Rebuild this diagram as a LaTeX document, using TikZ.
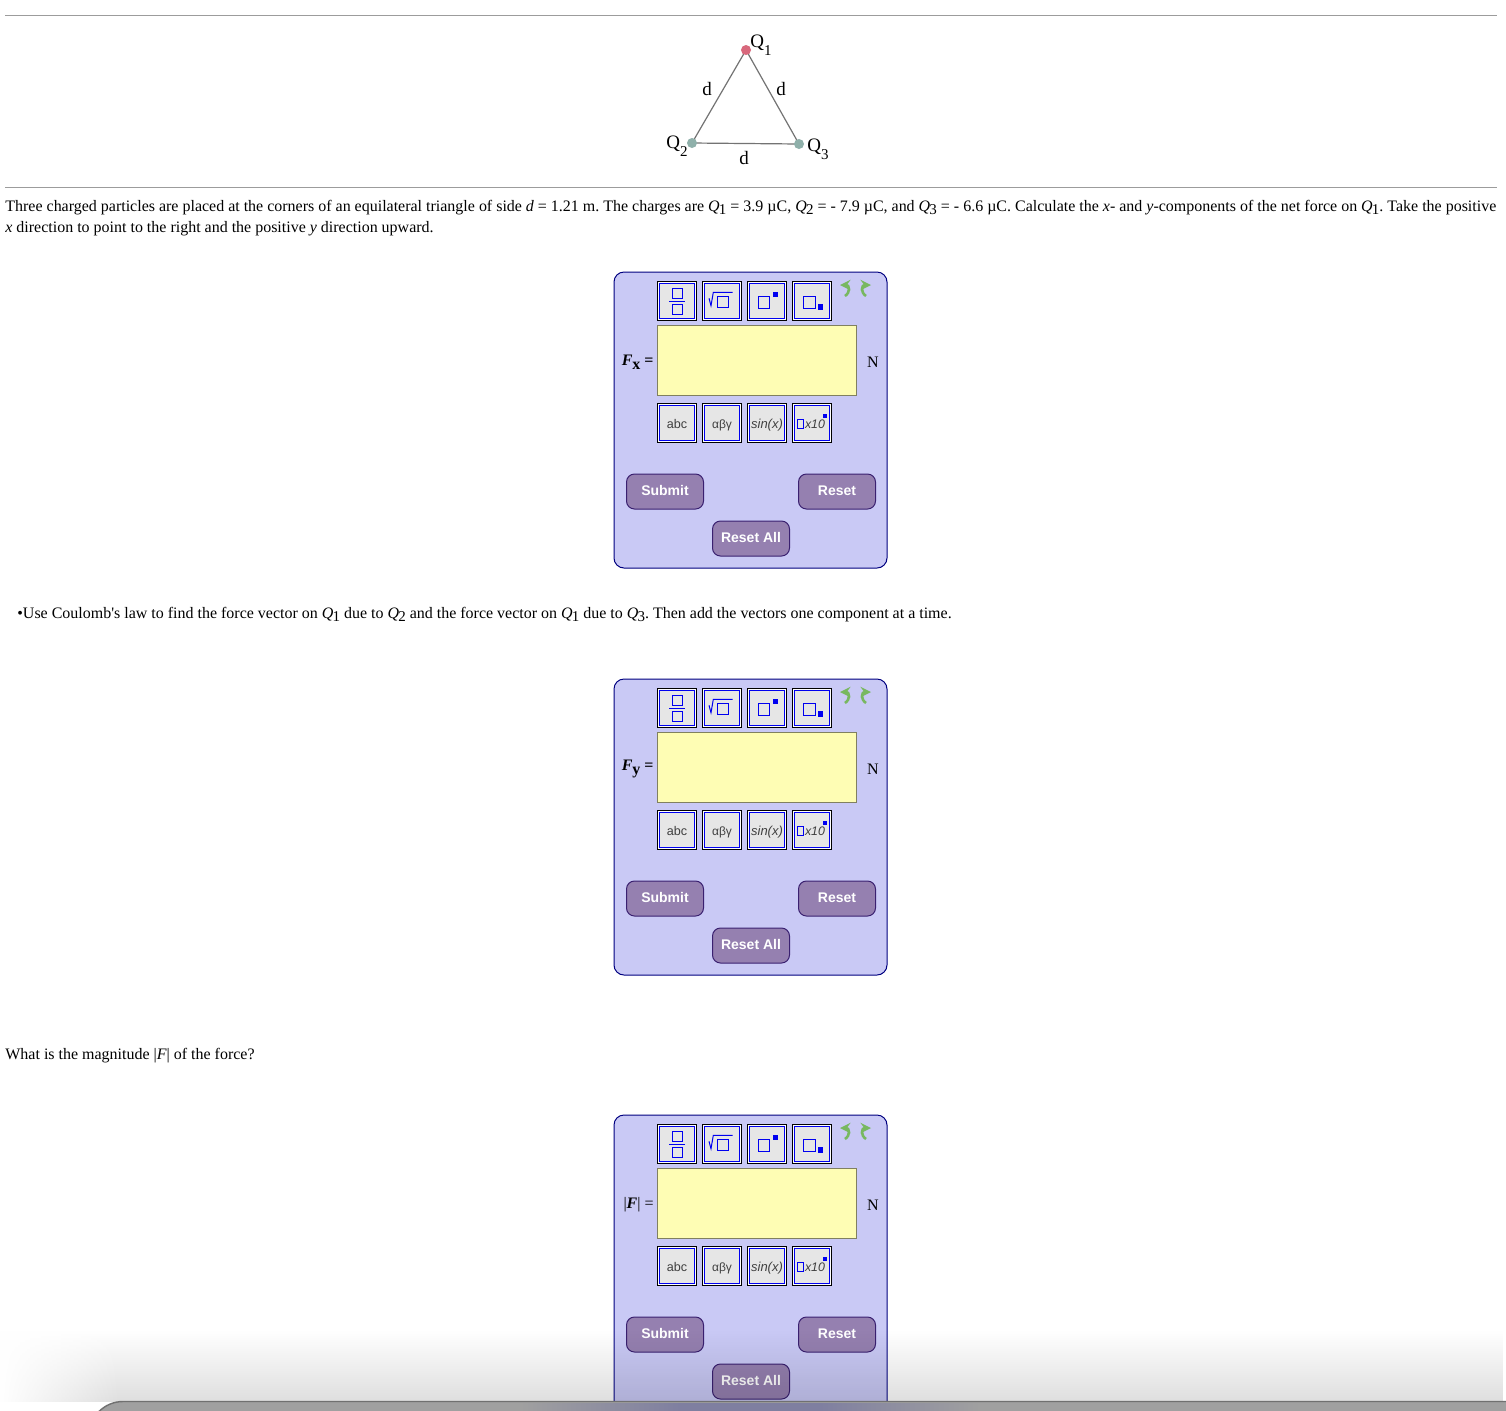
\documentclass[tikz,border=0pt]{standalone}
\usepackage{fontspec}
\setmainfont{Liberation Serif}
\newfontfamily\btnfont{Liberation Sans}
\frenchspacing
\usetikzlibrary{positioning, arrows}
\usetikzlibrary{fadings}
\definecolor{panelblue}{HTML}{C9C9F5}
\definecolor{panelline}{HTML}{000080}
\definecolor{entryyellow}{HTML}{FEFDB4}
\definecolor{entryline}{HTML}{808060}
\definecolor{toolgray}{HTML}{E6E6E6}
\definecolor{toolblue}{HTML}{0000F0}
\definecolor{btnpurple}{HTML}{9580B0}
\definecolor{btnline}{HTML}{3A2070}
\definecolor{rulegray}{HTML}{9C9C9C}
\definecolor{undogreen}{HTML}{78B860}
\definecolor{redq}{HTML}{D8687C}
\definecolor{tealq}{HTML}{8FB0AA}
\definecolor{bargray}{HTML}{A0A0A0}
\definecolor{barblue}{HTML}{7F7FA0}
\definecolor{barline}{HTML}{707070}
\tikzfading[name=fadeshadow, top color=transparent!100, bottom color=transparent!87]
\tikzset{
    bodytext/.style={anchor=base west,inner sep=0pt,font=\fontsize{7.99pt}{10pt}\selectfont},
    figtext/.style={inner sep=0pt,font=\fontsize{9.5pt}{10pt}\selectfont},
    charge/.style={circle,minimum size=5pt,inner sep=0pt},
    panelbox/.style={draw=panelline,fill=panelblue,line width=0.5pt,rounded corners=5pt,minimum width=136.5pt,anchor=north west,outer sep=0pt},
    toolbtn/.style={draw=black,fill=white,line width=0.5pt,minimum size=19.5pt,inner sep=0pt,outer sep=0pt},
    toolin/.style={draw=toolblue,fill=toolgray,line width=0.5pt,minimum size=17.5pt,inner sep=0pt,text=black!75,text height=5.7pt,text depth=0pt,font=\btnfont\fontsize{6.3pt}{7pt}\selectfont},
    glyph/.style={draw=toolblue,line width=0.5pt},
    dot/.style={fill=toolblue},
    entrybox/.style={draw=entryline,fill=entryyellow,line width=0.5pt,minimum width=99.5pt,minimum height=34.75pt,inner sep=0pt,anchor=north west},
    pushbtn/.style={draw=btnline,fill=btnpurple,line width=0.5pt,rounded corners=4pt,minimum width=38.5pt,minimum height=17.5pt,inner sep=0pt,text=white,text height=5.5pt,text depth=1.5pt,font=\btnfont\bfseries\fontsize{7pt}{8pt}\selectfont},
    undoarrow/.style={->,>=stealth,draw=undogreen,line width=1.3pt},
}
\newcommand{\qsub}[1]{\textit{Q}\kern-0.4pt\raisebox{-0.45ex}{\fontsize{7.5pt}{7.5pt}\selectfont #1}}
\newcommand{\figq}[1]{Q\raisebox{-0.9ex}{\fontsize{7.5pt}{7.5pt}\selectfont #1}}
% one answer panel: #1 prefix, #2 top, #3 height, #4 label
\newcommand{\answerpanel}[4]{%
  \begin{scope}[shift={(0,#2)}]
    \node[panelbox,minimum height=#3*0.5pt] (#1box) at (614,0) {};
    % upper row of buttons
    \node[toolbtn,label={[toolin]center:{}}] (#1top1) at (677,29) {};
    \foreach \i/\j in {1/2,2/3,3/4}
      \node[toolbtn,label={[toolin]center:{}},node distance=3pt] (#1top\j)[right =of #1top\i] {};
    \draw[glyph] ([shift={(-5,-12.7)}]#1top1.center) rectangle ++(10,10);
    \draw[glyph] ([shift={(-8,0)}]#1top1.center) -- ++(16,0);
    \draw[glyph] ([shift={(-5,3.3)}]#1top1.center) rectangle ++(10,10);
    \draw[glyph] ([shift={(-4.7,-4.7)}]#1top2.center) rectangle ++(11.4,11.4);
    \draw[glyph] ([shift={(-13,-2.7)}]#1top2.center) -- ++(2,7.4) -- ++(2.3,-13.4) -- ++(19.4,0);
    \draw[glyph] ([shift={(-8.7,-4.7)}]#1top3.center) rectangle ++(11.4,12);
    \fill[dot] ([shift={(6,-9)}]#1top3.center) rectangle ++(4.7,4.7);
    \draw[glyph] ([shift={(-8.4,-4.7)}]#1top4.center) rectangle ++(11.4,12);
    \fill[dot] ([shift={(6.3,3)}]#1top4.center) rectangle ++(4.7,5.7);
    % undo, redo
    \draw[undoarrow] (845,24) .. controls (851,20) and (849,13) .. (840,13);
    \draw[undoarrow] (866,24) .. controls (860,20) and (862,13) .. (871,13);
    % entry field
    \node[entrybox] (#1entry) at (657,53) {};
    \node[anchor=east,inner sep=0pt,font=\fontsize{8pt}{10pt}\selectfont] (#1label) at (654,90) {#4};
    \node[inner sep=0pt,font=\fontsize{8pt}{10pt}\selectfont] (#1unit) at (873,90) {N};
    % lower row of buttons
    \node[toolbtn,label={[toolin]center:{abc}}] (#1low1) at (677,151) {};
    \node[toolbtn,label={[toolin,font=\btnfont\fontsize{6pt}{7pt}\selectfont]center:{αβγ}},node distance=3pt] (#1low2)[right =of #1low1] {};
    \node[toolbtn,label={[toolin,font=\btnfont\itshape\fontsize{6.5pt}{7pt}\selectfont]center:{sin(x)}},node distance=3pt] (#1low3)[right =of #1low2] {};
    \node[toolbtn,label={[toolin,font=\btnfont\itshape\fontsize{6.2pt}{7pt}\selectfont]center:{\hspace{3pt}x10}},node distance=3pt] (#1low4)[right =of #1low3] {};
    \draw[glyph] ([shift={(-14.4,-4)}]#1low4.center) rectangle ++(6,9.7);
    \fill[dot] ([shift={(11.3,-9)}]#1low4.center) rectangle ++(4,4);
    % submit buttons
    \node[pushbtn] (#1submit) at (665,219.5) {Submit};
    \node[pushbtn] (#1reset) at (837,219.5) {Reset};
    \node[pushbtn] (#1resetall) at (751,266.5) {Reset All};
  \end{scope}
}
\begin{document}
\begin{tikzpicture}[x=0.5pt,y=-0.5pt]
    \useasboundingbox (0,0) rectangle (1506,1410);
    \clip (0,0) rectangle (1506,1410);
    \fill[white] (0,0) rectangle (1506,1410);
    % rules
    \coordinate (ruleal) at (5,15);
    \coordinate (rulear) at (1497,15);
    \coordinate (rulebl) at (5,187);
    \coordinate (rulebr) at (1497,187);
    \draw[rulegray,line width=0.5pt] (ruleal) -- (rulear);
    \draw[rulegray,line width=0.5pt] (rulebl) -- (rulebr);
    % triangle
    \node[charge] (q1) at (746,50) {};
    \node[charge] (q2) at (692,143) {};
    \node[charge] (q3) at (799,144) {};
    \draw[black!55,line width=0.6pt] (q1.center) -- (q2.center) -- (q3.center) -- (q1.center);
    \node[charge,fill=redq] (q1dot) at (q1) {};
    \node[charge,fill=tealq] (q2dot) at (q2) {};
    \node[charge,fill=tealq] (q3dot) at (q3) {};
    \node[figtext] (q1lab) at (761,45) {\figq{1}};
    \node[figtext] (q2lab) at (677,146) {\figq{2}};
    \node[figtext] (q3lab) at (818,149) {\figq{3}};
    \node[figtext] (dleft) at (707,89) {d};
    \node[figtext] (dright) at (781,89) {d};
    \node[figtext] (dbottom) at (744,158) {d};
    % question text
    \node[bodytext] (line1) at (5,211) {Three charged particles are placed at the corners of an equilateral triangle of side \textit{d} = 1.21 m. The charges are \qsub{1} = 3.9 µC, \qsub{2} = - 7.9 µC, and \qsub{3} = - 6.6 µC. Calculate the \textit{x}- and \textit{y}-components of the net force on \qsub{1}. Take the positive};
    \node[bodytext] (line2) at (5,232) {\textit{x} direction to point to the right and the positive \textit{y} direction upward.};
    \answerpanel{fx}{272}{296}{\textbf{\textit{F}\raisebox{-0.6ex}{x} =}}
    \node[bodytext] (hint) at (17,618) {•Use Coulomb\textquotesingle s law to find the force vector on \qsub{1} due to \qsub{2} and the force vector on \qsub{1} due to \qsub{3}. Then add the vectors one component at a time.};
    \answerpanel{fy}{679}{296}{\textbf{\textit{F}\raisebox{-0.6ex}{y} =}}
    \node[bodytext] (magq) at (5,1059) {What is the magnitude |\textit{F}| of the force?};
    \answerpanel{mag}{1115}{340}{|\textit{\textbf{F}}| =}
    % window shadow along the bottom
    \fill[black,path fading=fadeshadow] (0,1330) rectangle (1506,1402);
    \fill[white,path fading=east] (0,1330) rectangle (120,1402);
    \fill[bargray] (89,1445) [rounded corners=17pt] -- (89,1401.5) [sharp corners] -- (1506,1401.5) -- (1506,1445) -- cycle;
    \shade[left color=bargray,right color=barblue] (520,1403) rectangle (680,1412);
    \fill[barblue] (680,1403) rectangle (820,1412);
    \shade[left color=barblue,right color=bargray] (820,1403) rectangle (980,1412);
    \draw[barline,line width=0.7pt] (89,1445) [rounded corners=17pt] -- (89,1401.5) [sharp corners] -- (1506,1401.5);
\end{tikzpicture}
\end{document}
